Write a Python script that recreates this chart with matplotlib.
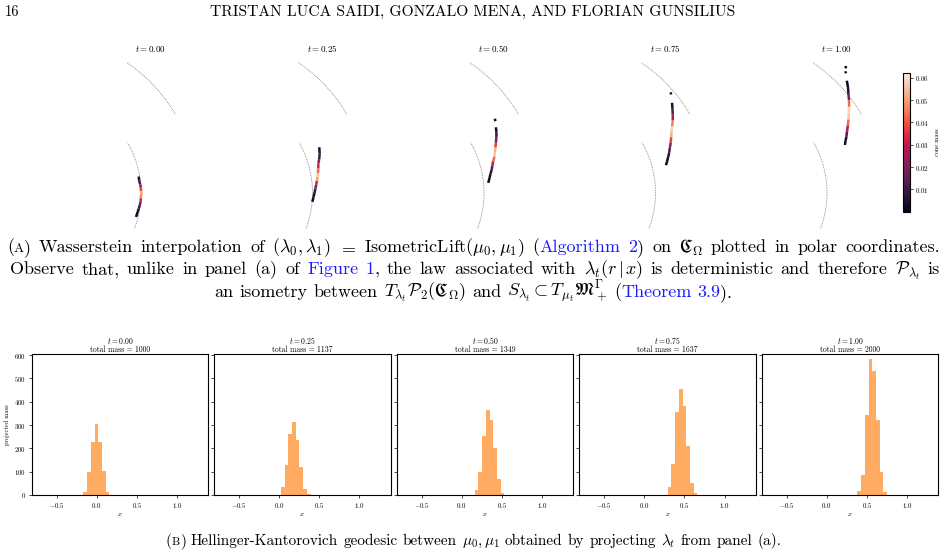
import numpy as np
import matplotlib
matplotlib.use('Agg')
import matplotlib.pyplot as plt
import seaborn as sns
from matplotlib.collections import LineCollection
from matplotlib.colors import Normalize
from matplotlib.cm import ScalarMappable
from matplotlib.offsetbox import TextArea, HPacker, AnnotationBbox

plt.rcParams['font.family'] = 'cmr10'
plt.rcParams['mathtext.fontset'] = 'cm'
plt.rcParams['axes.formatter.use_mathtext'] = True

W, H = 946, 557

# ---- data: top row (polar, theta in degrees, r, cone mass) ----
times = ['0.00', '0.25', '0.50', '0.75', '1.00']
total_mass = [1000, 1137, 1349, 1637, 2000]

inner_r, inner_span = 1.0, (-20.6, 29.8)
outer_r, outer_span = 1.55, (30.3, 56.3)

curves = [
    # t = 0.00
    [dict(theta=[9.5, 7, 5, 3, 1, -1, -3, -5, -7, -9, -11, -14],
          r=[0.99, 0.99, 0.995, 1.0, 1.0, 1.0, 1.0, 1.0, 0.995, 0.99, 0.985, 0.98],
          mass=[0.003, 0.008, 0.015, 0.03, 0.045, 0.055, 0.04, 0.025, 0.012, 0.006, 0.003, 0.001])],
    # t = 0.25
    [dict(theta=[23, 20, 17.5, 15.5, 13, 10.5, 8.5, 6.5, 4.5, 2.5, 0, -2.5, -5],
          r=[1.159, 1.14, 1.118, 1.098, 1.085, 1.072, 1.062, 1.05, 1.04, 1.03, 1.02, 1.01, 1.002],
          mass=[0.002, 0.006, 0.015, 0.03, 0.035, 0.05, 0.06, 0.04, 0.025, 0.012, 0.006, 0.003, 0.001])],
    # t = 0.50
    [dict(theta=[33.6, 32.6], r=[1.33, 1.32], mass=[0.002, 0.002]),
     dict(theta=[30.2, 28, 26, 24, 22, 20, 18, 16, 14, 12, 10, 8, 5.5],
          r=[1.294, 1.272, 1.248, 1.224, 1.2, 1.18, 1.16, 1.135, 1.115, 1.1, 1.08, 1.065, 1.047],
          mass=[0.002, 0.005, 0.012, 0.028, 0.045, 0.06, 0.05, 0.035, 0.02, 0.01, 0.005, 0.003, 0.001])],
    # t = 0.75
    [dict(theta=[40.9, 40.2], r=[1.522, 1.512], mass=[0.002, 0.002]),
     dict(theta=[37.5, 35.5, 33.5, 31.5, 29.5, 27.5, 25.5, 23.5, 21.5, 19.5, 17.5, 15.5, 14],
          r=[1.467, 1.435, 1.404, 1.373, 1.338, 1.305, 1.28, 1.255, 1.228, 1.205, 1.18, 1.155, 1.138],
          mass=[0.002, 0.006, 0.02, 0.035, 0.055, 0.06, 0.045, 0.03, 0.015, 0.008, 0.004, 0.002, 0.001])],
    # t = 1.00
    [dict(theta=[46.7, 46.1], r=[1.728, 1.712], mass=[0.002, 0.002]),
     dict(theta=[45.5, 45.0], r=[1.69, 1.676], mass=[0.002, 0.002]),
     dict(theta=[42.9, 41, 39, 37, 35, 33, 31, 29, 27, 25, 23.5, 22],
          r=[1.633, 1.6, 1.56, 1.525, 1.488, 1.45, 1.415, 1.38, 1.345, 1.315, 1.29, 1.27],
          mass=[0.001, 0.003, 0.008, 0.03, 0.055, 0.062, 0.05, 0.035, 0.02, 0.006, 0.003, 0.001])],
]

# ---- data: bottom row histograms ----
bin_width = 0.046
bin_start = [-0.165, 0.025, 0.1625, 0.292, 0.383]
counts = [
    [14, 100, 229, 304, 227, 103, 13],
    [36, 129, 260, 313, 236, 120, 26, 4],
    [21, 100, 254, 364, 321, 203, 67, 9],
    [36, 133, 357, 454, 381, 210, 50, 7],
    [19, 87, 344, 584, 531, 321, 99, 11],
]

fig = plt.figure(figsize=(W / 100, H / 100), dpi=100)
fig.patch.set_facecolor('white')

cmap = sns.color_palette('rocket', as_cmap=True)
norm = Normalize(vmin=0.0, vmax=0.062)

# header
fig.text(5 / W, 1 - 12 / H, '16', fontsize=10.5, va='center', ha='left')
fig.text(472.5 / W, 1 - 12 / H, 'TRISTAN LUCA SAIDI, GONZALO MENA, AND FLORIAN GUNSILIUS',
         fontsize=11.2, va='center', ha='center')

# top row, polar panels
U = 101.0      # pixels per radial unit
RMAX = 1.8
for i, t in enumerate(times):
    cx, cy = 40 + 171.5 * i, 193
    size = 2 * RMAX * U
    ax = fig.add_axes([(cx - size / 2) / W, (H - cy - size / 2) / H, size / W, size / H],
                      projection='polar')
    ax.set_ylim(0, RMAX)
    ax.set_axis_off()
    th = np.deg2rad(np.linspace(*inner_span, 100))
    ax.plot(th, np.full_like(th, inner_r), ls=(0, (1, 1)), color='gray', lw=0.6)
    th = np.deg2rad(np.linspace(*outer_span, 100))
    ax.plot(th, np.full_like(th, outer_r), ls=(0, (1, 1)), color='gray', lw=0.6)
    for c in curves[i]:
        pts = np.column_stack([np.deg2rad(c['theta']), c['r']])
        segs = np.stack([pts[:-1], pts[1:]], axis=1)
        m = np.asarray(c['mass'])
        lc = LineCollection(segs, cmap=cmap, norm=norm, linewidths=1.8, capstyle='butt')
        lc.set_array((m[:-1] + m[1:]) / 2)
        ax.add_collection(lc)
    fig.text((cx + 111) / W, 1 - 49 / H, f'$t = {t}$', fontsize=6.5, ha='center', va='center')

cax = fig.add_axes([903 / W, (H - 211.7) / H, 7 / W, (211.7 - 73.3) / H])
cb = fig.colorbar(ScalarMappable(norm=norm, cmap=cmap), cax=cax)
cb.set_ticks([0.01, 0.02, 0.03, 0.04, 0.05, 0.06])
cb.ax.tick_params(labelsize=5, length=2, width=0.5, pad=1.5)
cb.outline.set_linewidth(0.8)
cb.set_label('cone mass', fontsize=4.5, labelpad=4)

# bottom row histograms
lefts = [31.7, 214, 396.7, 579.3, 761.7]
for i, t in enumerate(times):
    ax = fig.add_axes([lefts[i] / W, (H - 495) / H, 176.6 / W, 141 / H])
    edges = bin_start[i] + bin_width * np.arange(len(counts[i]))
    ax.bar(edges, counts[i], width=bin_width, align='edge', color='tab:orange', alpha=0.65,
           linewidth=0)
    ax.set_xlim(-0.81, 1.39)
    ax.set_ylim(0, 605)
    ax.set_xticks([-0.5, 0.0, 0.5, 1.0])
    ax.set_yticks(range(0, 601, 100))
    ax.tick_params(labelsize=5, length=2, width=0.5, pad=2)
    if i > 0:
        ax.set_yticklabels([])
    else:
        ax.set_ylabel('projected mass', fontsize=4.5, labelpad=3)
    ax.set_xlabel('$x$', fontsize=5, labelpad=1)
    ax.set_title(f'$t = {t}$\ntotal mass = {total_mass[i]}', fontsize=5.5, pad=1.5, linespacing=0.95)
    for s in ax.spines.values():
        s.set_linewidth(0.8)


def split_words(text):
    # split on spaces that are not inside $...$
    parts, cur, in_math = [], '', False
    for ch in text:
        if ch == '$':
            in_math = not in_math
        if ch == ' ' and not in_math:
            parts.append(cur)
            cur = ''
        else:
            cur += ch
    parts.append(cur)
    return parts


def caption_line(pieces, y, size, width=None, xc=473.5):
    units = [[]]
    for text, color, scale in pieces:
        parts = split_words(text)
        for j, p in enumerate(parts):
            if j > 0:
                units.append([])
            if p:
                units[-1].append((p, color, scale))
    units = [u for u in units if u]
    boxes = []
    for u in units:
        areas = [TextArea(s, textprops=dict(color=c, fontsize=size * k)) for s, c, k in u]
        boxes.append(HPacker(children=areas, align='baseline', pad=0, sep=0))
    if width is None:
        pack = HPacker(children=boxes, align='baseline', pad=0, sep=0.333 * size)
    else:
        pack = HPacker(children=boxes, align='baseline', pad=0, sep=0, mode='expand', width=width)
    ab = AnnotationBbox(pack, (xc / W, 1 - y / H), xycoords='figure fraction', frameon=False,
                        box_alignment=(0.5, 0.5), pad=0)
    fig.add_artist(ab)


blue = '#1a1aff'
k = 'black'
fs_a = 13
fs_b = 11
caption_line([('(', k, 1), ('A', k, 0.75),
              (r') Wasserstein interpolation of $(\lambda_0, \lambda_1)$ $=$ $\mathrm{IsometricLift}(\mu_0, \mu_1)$ (', k, 1),
              ('Algorithm 2', blue, 1),
              (r') on $\mathfrak{C}_\Omega$ plotted in polar coordinates.', k, 1)], 248, fs_a, width=933)
caption_line([('Observe that, unlike in panel (a) of', k, 1), (' Figure 1', blue, 1),
              (r', the law associated with $\lambda_t(r\,|\,x)$ is deterministic and therefore $\mathcal{P}_{\lambda_t}$ is', k, 1)],
             270, fs_a, width=930, xc=475)
caption_line([(r'an isometry between $T_{\lambda_t}\mathcal{P}_2(\mathfrak{C}_\Omega)$ and $S_{\lambda_t} \subset T_{\mu_t}\mathfrak{M}_+^\Gamma$ (', k, 1),
              ('Theorem 3.9', blue, 1), (').', k, 1)], 292, fs_a)
caption_line([('(', k, 1), ('B', k, 0.75),
              (r') Hellinger-Kantorovich geodesic between $\mu_0, \mu_1$ obtained by projecting $\lambda_t$ from panel (a).', k, 1)],
             541, fs_b)

fig.savefig('out.png', dpi=100)
